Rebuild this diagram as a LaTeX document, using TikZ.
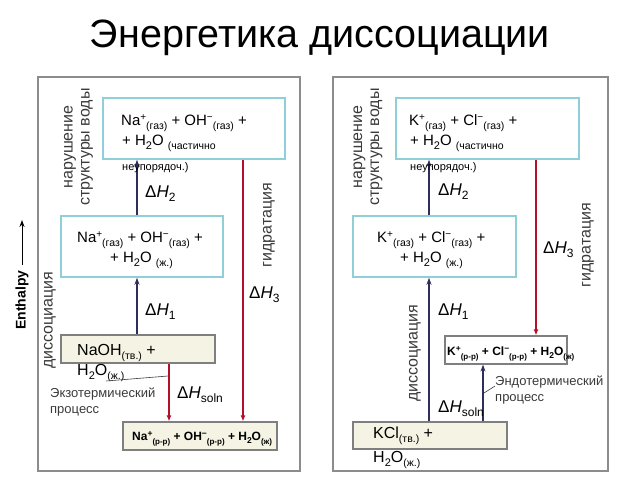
\documentclass[tikz,border=0pt]{standalone}
\usepackage{fontspec}
\setmainfont{Liberation Sans}
\usetikzlibrary{arrows.meta}
\definecolor{navy}{HTML}{2E2E5C}
\definecolor{redarrow}{HTML}{B3102C}
\definecolor{boxteal}{HTML}{8FCFD8}
\definecolor{boxgrey}{HTML}{7F7F7F}
\definecolor{cream}{HTML}{F4F3E4}
\definecolor{framegrey}{HTML}{8C8C8C}
\definecolor{lbl}{HTML}{3A3A3A}
\newcommand\sbx[1]{\raisebox{-4pt}{\fontsize{10.5}{10.5}\selectfont #1}}
\newcommand\sbs[1]{\raisebox{-4pt}{\fontsize{8}{8}\selectfont #1}}
\newcommand\spx[1]{\raisebox{5pt}{\fontsize{10}{10}\selectfont #1}}
\newcommand\spy[1]{\raisebox{4pt}{\fontsize{8.5}{8.5}\selectfont #1}}
\newcommand\two{\raisebox{-4pt}{\fontsize{11}{11}\selectfont 2}}
\newcommand\twos{\raisebox{-3pt}{\fontsize{8.5}{8.5}\selectfont 2}}
\newcommand\dH[1]{Δ\textit{H}\raisebox{-4pt}{\fontsize{12}{12}\selectfont #1}}
\begin{document}
\begin{tikzpicture}[x=1pt,y=-1pt,
  pframe/.style={draw=framegrey, line width=1.5pt, inner sep=0},
  tealbox/.style={draw=boxteal, line width=1.5pt, fill=white, inner sep=0},
  creambox/.style={draw=boxgrey, line width=1.2pt, fill=cream, inner sep=0},
  whitebox/.style={draw=boxgrey, line width=1.2pt, fill=white, inner sep=0},
  chem/.style={anchor=base west, inner sep=0, font=\fontsize{15}{15}\selectfont},
  chemb/.style={anchor=base west, inner sep=0, font=\fontsize{12}{12}\selectfont\bfseries},
  smalltxt/.style={anchor=base west, inner sep=0, font=\fontsize{11}{11}\selectfont},
  dhl/.style={anchor=base west, inner sep=0, font=\fontsize{17}{17}\selectfont},
  vlbl/.style={rotate=90, inner sep=0, align=center, text=lbl, font=\fontsize{16}{17}\selectfont},
  notelbl/.style={anchor=base west, inner sep=0, text=lbl, font=\fontsize{13}{13}\selectfont},
  navyarr/.style={draw=navy, line width=1.3pt, -{Stealth[length=7pt,width=5pt]}},
  redarr/.style={draw=redarrow, line width=1.3pt, -{Latex[length=6pt,width=5pt]}},
  pointer/.style={draw=lbl, line width=0.6pt}
]
\useasboundingbox (0,0) rectangle (640,480);
% title
\node[font=\fontsize{39.5}{39.5}\selectfont, inner sep=0] (title) at (320,38) {Энергетика диссоциации};
% frames
\node[pframe, minimum width=262, minimum height=394] (lframe) at (169,274) {};
\node[pframe, minimum width=275, minimum height=394] (rframe) at (470.5,274) {};
% enthalpy axis
\node[rotate=90, inner sep=1pt, font=\fontsize{14}{14}\selectfont\bfseries] (enth) at (22,300) {Enthalpy};
\coordinate (enttip) at (22,220);
\draw[line width=1pt, -{Stealth[length=7pt,width=5pt]}] (enth.east) ++(0,-4) -- (enttip);
% left boxes
\node[tealbox, minimum width=182, minimum height=61] (ltop) at (194,128.5) {};
\node[tealbox, minimum width=162, minimum height=61] (lmid) at (142,246.5) {};
\node[creambox, minimum width=154, minimum height=28] (lnaoh) at (138,349) {};
\node[creambox, minimum width=154, minimum height=28] (lbot) at (200,436) {};
% right boxes
\node[tealbox, minimum width=183, minimum height=61] (rtop) at (487.5,128.5) {};
\node[tealbox, minimum width=163, minimum height=61] (rmid) at (434.5,246.5) {};
\node[whitebox, minimum width=122, minimum height=28] (rsol) at (506,350) {};
\node[creambox, minimum width=154, minimum height=27] (rkcl) at (430,435.5) {};
% left arrows
\coordinate (lx1) at (137,0);
\coordinate (lx3) at (243,0);
\coordinate (lxs) at (169,0);
\draw[navyarr] (lx1 |- lmid.north) -- (lx1 |- ltop.south);
\draw[navyarr] (lx1 |- lnaoh.north) -- (lx1 |- lmid.south);
\draw[redarr] (lx3 |- ltop.south) -- (lx3 |- lbot.north);
\draw[redarr] (lxs |- lnaoh.south) -- (lxs |- lbot.north);
% right arrows
\coordinate (rx1) at (429,0);
\coordinate (rx3) at (536,0);
\coordinate (rxs) at (483,0);
\draw[navyarr] (rx1 |- rmid.north) -- (rx1 |- rtop.south);
\draw[navyarr] (rx1 |- rkcl.north) -- (rx1 |- rmid.south);
\draw[redarr] (rx3 |- rtop.south) -- (rx3 |- rsol.north);
\draw[navyarr, line width=2pt] (rxs |- rkcl.north) -- (rxs |- rsol.south);
% left texts
\node[chem] (lt1) at (121,125) {Na\spx{+}\sbx{(газ)} + OH\spx{−}\sbx{(газ)} +};
\node[chem] (lt2) at (122,145) {+ H\two O \sbx{(частично}};
\node[smalltxt] (lt3) at (122,170) {неупорядоч.)};
\node[chem] (lm1) at (77,242) {Na\spx{+}\sbx{(газ)} + OH\spx{−}\sbx{(газ)} +};
\node[chem] (lm2) at (110,262) {+ H\two O \sbx{(ж.)}};
\node[chem, font=\fontsize{16}{16}\selectfont] (ln1) at (77,355) {NaOH\sbx{(тв.)} +};
\node[chem, font=\fontsize{16}{16}\selectfont] (ln2) at (77,375) {H\two O\sbx{(ж.)}};
\node[chemb] (lb1) at (132,440) {Na\spy{+}\sbs{(р-р)} + OH\spy{−}\sbs{(р-р)} + H\twos O\sbs{(ж)}};
% right texts
\node[chem] (rt1) at (409,125) {K\spx{+}\sbx{(газ)} + Cl\spx{−}\sbx{(газ)} +};
\node[chem] (rt2) at (410,145) {+ H\two O \sbx{(частично}};
\node[smalltxt] (rt3) at (410,170) {неупорядоч.)};
\node[chem] (rm1) at (377,242) {K\spx{+}\sbx{(газ)} + Cl\spx{−}\sbx{(газ)} +};
\node[chem] (rm2) at (400,262) {+ H\two O \sbx{(ж.)}};
\node[chemb] (rs1) at (447,355) {K\spy{+}\sbs{(р-р)} + Cl\spy{−}\sbs{(р-р)} + H\twos O\sbs{(ж)}};
\node[chem, font=\fontsize{16}{16}\selectfont] (rk1) at (373,438) {KCl\sbx{(тв.)} +};
\node[chem, font=\fontsize{16}{16}\selectfont] (rk2) at (373,462) {H\two O\sbx{(ж.)}};
% delta H labels
\node[dhl] (ldh2) at (145,197) {\dH{2}};
\node[dhl] (ldh1) at (145,315) {\dH{1}};
\node[dhl] (ldh3) at (249,298) {\dH{3}};
\node[dhl] (ldhs) at (177,398) {\dH{soln}};
\node[dhl] (rdh2) at (438,195) {\dH{2}};
\node[dhl] (rdh3) at (543,253) {\dH{3}};
\node[dhl] (rdh1) at (438,315) {\dH{1}};
\node[dhl] (rdhs) at (438,412) {\dH{soln}};
% vertical labels
\node[vlbl] (lnar) at (78.5,147) {нарушение\\структуры воды};
\node[vlbl] (rnar) at (368,147) {нарушение\\структуры воды};
\node[vlbl] (lgid) at (269,225) {гидратация};
\node[vlbl] (rgid) at (588,245) {гидратация};
\node[vlbl] (ldis) at (50,320) {диссоциация};
\node[vlbl] (rdis) at (415,353) {диссоциация};
% process notes
\node[notelbl] (lexo1) at (50,397) {Экзотермический};
\node[notelbl] (lexo2) at (50,413) {процесс};
\node[notelbl] (rendo1) at (495,385) {Эндотермический};
\node[notelbl] (rendo2) at (495,401) {процесс};
\coordinate (pl1) at (106,381);
\coordinate (pl2) at (168,376);
\draw[pointer] (pl1) -- (pl2);
\coordinate (pr1) at (495,386);
\coordinate (pr2) at (484,393);
\draw[pointer] (pr1) -- (pr2);
\end{tikzpicture}
\end{document}
